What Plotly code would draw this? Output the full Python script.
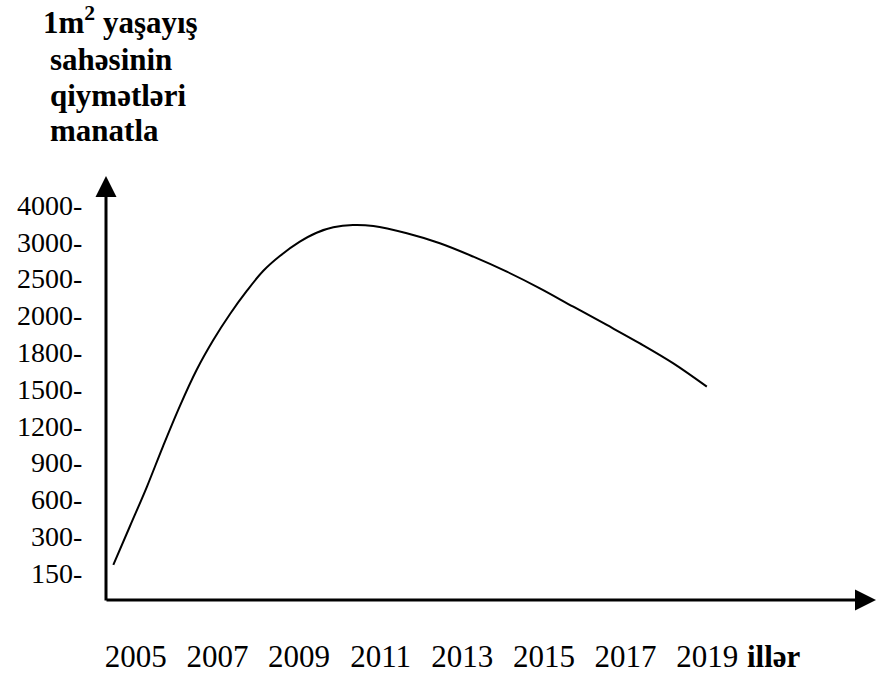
import numpy as np
import plotly.graph_objects as go

# ---- data ----
y_tick_values = [150, 300, 600, 900, 1200, 1500, 1800, 2000, 2500, 3000, 4000]
x_tick_years = [2005, 2007, 2009, 2011, 2013, 2015, 2017, 2019]
x_axis_title = "illər"
y_axis_title_lines = ["1m<sup>2</sup> yaşayış", "sahəsinin", "qiymətləri", "manatla"]

curve_years = [2004.45, 2004.86, 2005.28, 2005.67, 2006.08, 2006.49, 2006.90, 2007.31,
               2007.72, 2008.12, 2008.53, 2009.02, 2009.43, 2009.84, 2010.32, 2010.82,
               2011.64, 2012.45, 2013.27, 2014.09, 2014.90, 2015.72, 2016.54, 2017.35,
               2018.17, 2018.99]
curve_prices = [183, 383, 709, 1035, 1361, 1655, 1866, 2019,
                2332, 2603, 2807, 3003, 3247, 3394, 3457, 3429,
                3231, 2980, 2798, 2594, 2368, 2118, 1948, 1848,
                1709, 1519]

# ---- layout geometry ----
W, H = 877, 675
L, R, T, B = 106, 0, 177, 75
PW, PH = W - L - R, H - T - B

def px_x(px):
    return (px - L) / PW

def px_y(py):
    return (H - B - py) / PH

# y axis is an ordinal scale: ticks equally spaced regardless of value
tick_index = list(range(len(y_tick_values)))
curve_pos = np.interp(curve_prices, y_tick_values, tick_index)

FONT = "Times New Roman, Liberation Serif, serif"

fig = go.Figure()
fig.add_trace(go.Scatter(
    x=curve_years, y=curve_pos, mode="lines",
    line=dict(color="black", width=2, shape="spline", smoothing=1.0),
    hoverinfo="skip", showlegend=False,
))

fig.update_layout(
    width=W, height=H,
    margin=dict(l=L, r=R, t=T, b=B, pad=0),
    paper_bgcolor="white", plot_bgcolor="white",
    showlegend=False,
    font=dict(family=FONT, color="black"),
    xaxis=dict(
        range=[2004.271, 2023.159], tickmode="array", tickvals=x_tick_years,
        ticktext=[str(y) for y in x_tick_years],
        showgrid=False, zeroline=False, showline=False,
        ticks="outside", ticklen=29, tickcolor="rgba(0,0,0,0)",
        tickfont=dict(family=FONT, size=31, color="black"),
        fixedrange=True,
    ),
    yaxis=dict(
        range=[-0.734, 10.761], tickmode="array", tickvals=tick_index,
        ticktext=[f"{v}-" for v in y_tick_values],
        showgrid=False, zeroline=False, showline=False,
        ticks="outside", ticklen=17, tickcolor="rgba(0,0,0,0)",
        tickfont=dict(family=FONT, size=28, color="black"),
        fixedrange=True,
    ),
)

annotations = []
# y axis with arrow
annotations.append(dict(
    xref="paper", yref="paper", x=px_x(106), y=px_y(176), text="",
    showarrow=True, axref="pixel", ayref="pixel", ax=0, ay=426,
    arrowhead=2, arrowsize=1.4, arrowwidth=3, arrowcolor="black", standoff=0,
))
# x axis with arrow
annotations.append(dict(
    xref="paper", yref="paper", x=px_x(881), y=px_y(600), text="",
    showarrow=True, axref="pixel", ayref="pixel", ax=-776, ay=0,
    arrowhead=2, arrowsize=1.4, arrowwidth=3, arrowcolor="black", standoff=0,
))
# x axis title
annotations.append(dict(
    xref="paper", yref="paper", x=px_x(774), y=px_y(656), text=f"<b>{x_axis_title}</b>",
    showarrow=False, xanchor="center", yanchor="middle",
    font=dict(family=FONT, size=31, color="black"),
))
# y axis title, one annotation per line
title_left = [41, 48, 48, 48]
title_bottom = [42, 79, 115, 150]
for line, lx, by in zip(y_axis_title_lines, title_left, title_bottom):
    annotations.append(dict(
        xref="paper", yref="paper", x=px_x(lx), y=px_y(by), text=f"<b>{line}</b>",
        showarrow=False, xanchor="left", yanchor="bottom", align="left",
        font=dict(family=FONT, size=31, color="black"),
    ))
fig.update_layout(annotations=annotations)

fig.write_html(
    "out.html",
    config={"displayModeBar": False},
    post_script="document.body.style.margin='0';document.body.style.overflow='hidden';",
)
